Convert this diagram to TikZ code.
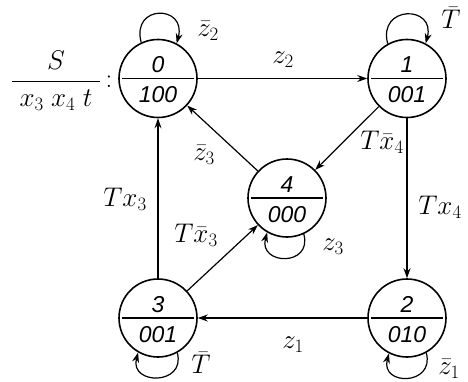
\RequirePackage{fix-cm}
\documentclass[tikz,border=0pt]{standalone}
\usepackage{fontspec}
\setmainfont{Liberation Sans}
\usetikzlibrary{arrows.meta}
\newcommand\mkstate[4]{%
  \node[state] (#1) at (#2) {};
  \draw[divider] ([xshift=-36pt]#1.center) -- ([xshift=36pt]#1.center);
  \node[numtxt, anchor=base] at ([yshift=6pt]#1.center) {#3};
  \node[numtxt, anchor=base] at ([yshift=-24pt]#1.center) {#4};
}
\begin{document}
\begin{tikzpicture}[x=1pt,y=1pt,
  state/.style={circle, draw, line width=1.6pt, minimum size=78pt, inner sep=0pt},
  divider/.style={line width=1.4pt},
  numtxt/.style={font=\fontsize{23}{26}\selectfont\itshape, inner sep=0pt},
  tr/.style={-{Stealth[length=10pt,width=7pt]}, line width=1.2pt},
  lbl/.style={font=\fontsize{27}{30}\selectfont, inner sep=1pt}]
\useasboundingbox (0,0) rectangle (468,381);
\mkstate{n0}{158,302.5}{0}{100}
\mkstate{n1}{407,302.5}{1}{001}
\mkstate{n4}{287,183}{4}{000}
\mkstate{n3}{158,63}{3}{001}
\mkstate{n2}{407,63}{2}{010}
% edges
\draw[tr] (n0) -- (n1);
\draw[tr] (n1) -- (n4);
\draw[tr] (n4) -- (n0);
\draw[tr] (n1) -- (n2);
\draw[tr] (n2) -- (n3);
\draw[tr] (n3) -- (n0);
\draw[tr] (n3) -- (n4);
% loops
\draw[tr] (n0.115) .. controls +(105:40) and +(75:40) .. (n0.62);
\draw[tr] (n1.119) .. controls +(105:40) and +(75:40) .. (n1.62);
\draw[tr] (n4.-65) .. controls +(-75:34) and +(-105:34) .. (n4.-120);
\draw[tr] (n3.-61) .. controls +(-75:34) and +(-105:34) .. (n3.-120);
\draw[tr] (n2.-61) .. controls +(-75:34) and +(-105:34) .. (n2.-117);
% labels
\node[lbl] (l1) at (208,350) {$\bar z_2$};
\node[lbl] (l2) at (451,363) {$\bar T$};
\node[lbl] (l3) at (283,321) {$z_2$};
\node[lbl] (l4) at (382,239) {$T\bar x_4$};
\node[lbl] (l5) at (204,226) {$\bar z_3$};
\node[lbl] (l6) at (440,174) {$Tx_4$};
\node[lbl] (l7) at (125,182) {$Tx_3$};
\node[lbl] (l8) at (196,146) {$T\bar x_3$};
\node[lbl] (l9) at (333,134) {$z_3$};
\node[lbl] (l10) at (293,36) {$z_1$};
\node[lbl] (l11) at (201,18) {$\bar T$};
\node[lbl] (l12) at (449,12) {$\bar z_1$};
\node[lbl] (frac) at (56,300) {$\displaystyle\frac{S}{\;x_3\;x_4\;t\;}$};
\node[lbl] (colon) at (109,299) {$:$};
\end{tikzpicture}
\end{document}
